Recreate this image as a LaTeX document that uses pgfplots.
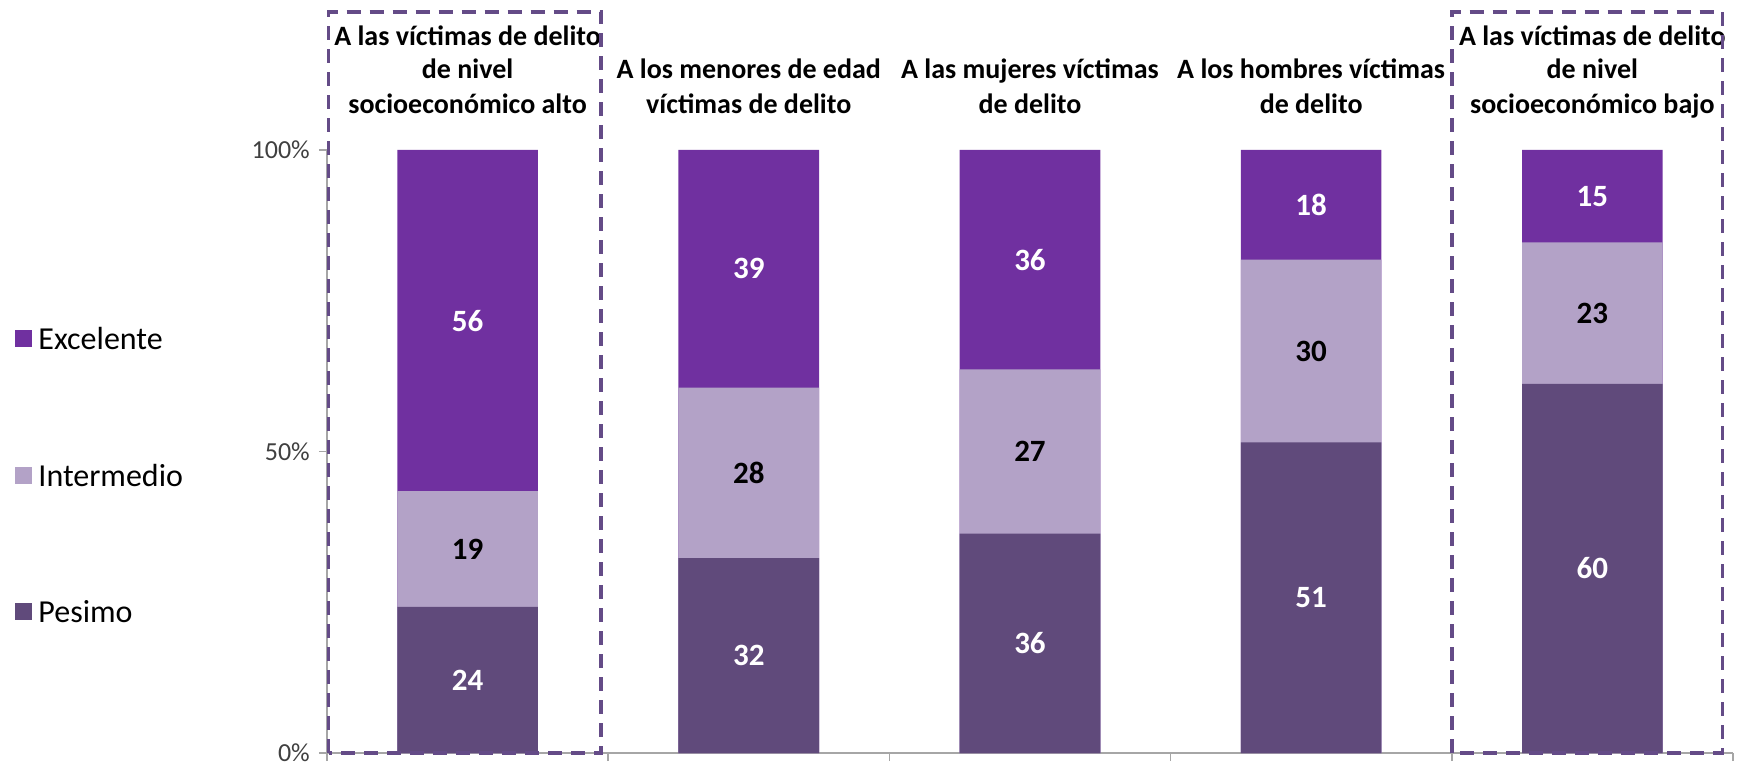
\documentclass[border=0pt]{standalone}
\usepackage{pgfplots}
\pgfplotsset{compat=1.18}
\usepackage{pgfplotstable}
\usepackage{fontspec}
\setmainfont{Carlito}
\definecolor{exc}{RGB}{112,48,160}
\definecolor{inter}{RGB}{179,162,199}
\definecolor{pes}{RGB}{96,74,123}
\definecolor{boxc}{RGB}{100,75,135}
\definecolor{axc}{RGB}{166,166,166}
\definecolor{tickc}{RGB}{64,64,64}
\pgfplotstableread{
idx p i e
0 24 19 56
1 32 28 39
2 36 27 36
3 51 30 18
4 60 23 15
}\data
\newcommand{\ttl}{\fontsize{28bp}{34bp}\selectfont\bfseries}
\newcommand{\lbl}{\fontsize{31bp}{36bp}\selectfont\bfseries}
\begin{document}
\begin{tikzpicture}
\path[use as bounding box] (0,0) rectangle (1741bp,764bp);
\begin{axis}[
  at={(327bp,11bp)}, anchor=south west,
  scale only axis, width=1406bp, height=603bp,
  xmin=-0.5, xmax=4.5, ymin=0, ymax=100,
  enlargelimits=false, clip=false,
  axis x line*=bottom, axis y line*=left,
  axis line style={draw=axc, line width=1.5bp},
  xtick={-0.5,0.5,1.5,2.5,3.5,4.5}, xticklabels={},
  ytick={0,50,100}, yticklabels={0\%,50\%,100\%},
  tick align=outside, major tick length=8bp,
  tick style={draw=axc, line width=1.5bp},
  /pgf/number format/assume math mode=true,
  yticklabel style={font=\fontsize{26bp}{30bp}\selectfont, text=tickc, inner sep=0pt, xshift=-9bp},
  legend style={draw=none, fill=none, inner sep=0pt, outer sep=0pt,
    at={(axis description cs:-0.2216,0.7054)}, anchor=north west,
    font=\fontsize{32bp}{38bp}\selectfont, row sep=114.5bp,
    nodes={inner sep=0pt, text height=22bp, text depth=0bp},
    /tikz/every odd column/.append style={column sep=6bp}},
  legend cell align=left,
  legend image code/.code={\fill[#1] (0bp,-8.5bp) rectangle (17bp,8.5bp);},
]
\addplot[ybar, bar shift=0pt, bar width=0.5, fill=exc, draw=none]
  table[x=idx, y expr={(\thisrow{p}+\thisrow{i}+\thisrow{e})/(\thisrow{p}+\thisrow{i}+\thisrow{e})*100}] {\data};
\addlegendentry{Excelente}
\addplot[ybar, bar shift=0pt, bar width=0.5, fill=inter, draw=none]
  table[x=idx, y expr={(\thisrow{p}+\thisrow{i})/(\thisrow{p}+\thisrow{i}+\thisrow{e})*100}] {\data};
\addlegendentry{Intermedio}
\addplot[ybar, bar shift=0pt, bar width=0.5, fill=pes, draw=none]
  table[x=idx, y expr={\thisrow{p}/(\thisrow{p}+\thisrow{i}+\thisrow{e})*100}] {\data};
\addlegendentry{Pesimo}
% labels
\addplot[forget plot, only marks, mark=none, nodes near coords, point meta=explicit symbolic,
  nodes near coords style={font=\lbl, text=white, anchor=center}]
  table[x=idx, y expr={(\thisrow{p}/2)/(\thisrow{p}+\thisrow{i}+\thisrow{e})*100}, meta=p] {\data};
\addplot[forget plot, only marks, mark=none, nodes near coords, point meta=explicit symbolic,
  nodes near coords style={font=\lbl, text=black, anchor=center}]
  table[x=idx, y expr={(\thisrow{p}+\thisrow{i}/2)/(\thisrow{p}+\thisrow{i}+\thisrow{e})*100}, meta=i] {\data};
\addplot[forget plot, only marks, mark=none, nodes near coords, point meta=explicit symbolic,
  nodes near coords style={font=\lbl, text=white, anchor=center}]
  table[x=idx, y expr={(\thisrow{p}+\thisrow{i}+\thisrow{e}/2)/(\thisrow{p}+\thisrow{i}+\thisrow{e})*100}, meta=e] {\data};
% titles
\begin{scope}[every node/.style={anchor=base, font=\ttl, text=black, inner sep=0pt}]
\node at (axis cs:0,117.4) {A las víctimas de delito};
\node at (axis cs:0,111.8) {de nivel};
\node at (axis cs:0,106.1) {socioeconómico alto};
\node at (axis cs:1,111.8) {A los menores de edad};
\node at (axis cs:1,106.1) {víctimas de delito};
\node at (axis cs:2,111.8) {A las mujeres víctimas};
\node at (axis cs:2,106.1) {de delito};
\node at (axis cs:3,111.8) {A los hombres víctimas};
\node at (axis cs:3,106.1) {de delito};
\node at (axis cs:4,117.4) {A las víctimas de delito};
\node at (axis cs:4,111.8) {de nivel};
\node at (axis cs:4,106.1) {socioeconómico bajo};
\end{scope}
% dashed boxes
\draw[boxc, line width=3.5bp, dash pattern=on 14bp off 9bp]
  (axis cs:-0.494,0) rectangle (axis cs:0.475,122.9);
\draw[boxc, line width=3.5bp, dash pattern=on 14bp off 9bp]
  (axis cs:3.5,0) rectangle (axis cs:4.462,122.9);
\end{axis}
\end{tikzpicture}
\end{document}
